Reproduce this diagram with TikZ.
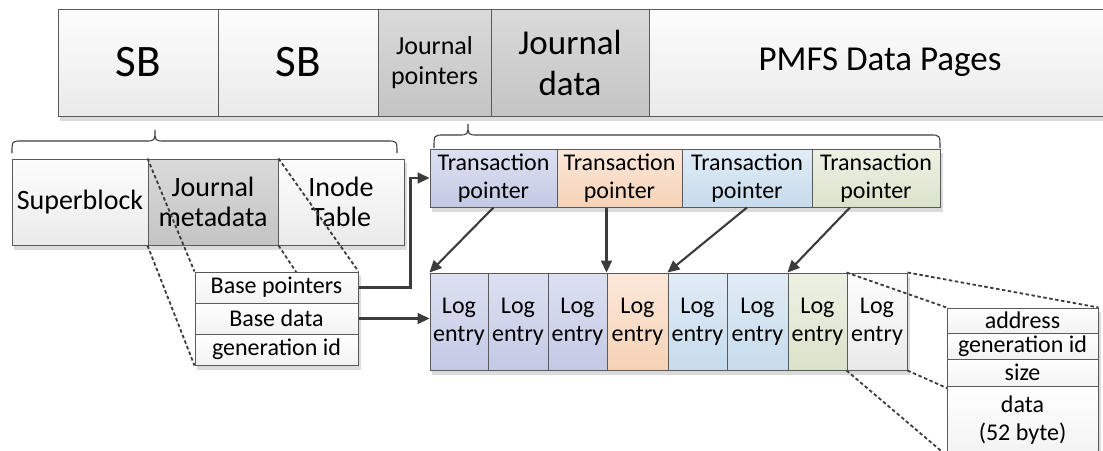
\documentclass[tikz,border=0pt]{standalone}
\usepackage{fontspec}
\setmainfont{Carlito}
\usetikzlibrary{arrows.meta,calc}

\pgfdeclarelayer{shadow}
\pgfdeclarelayer{links}
\pgfdeclarelayer{front}
\pgfsetlayers{shadow,main,links,front}

\definecolor{edge}{RGB}{90,90,90}
\definecolor{ink}{RGB}{60,60,60}
\definecolor{lightT}{RGB}{253,253,253}
\definecolor{lightB}{RGB}{234,234,234}
\definecolor{darkT}{RGB}{218,218,218}
\definecolor{darkB}{RGB}{196,196,196}
\definecolor{lavT}{RGB}{220,224,241}
\definecolor{lavB}{RGB}{196,202,229}
\definecolor{peachT}{RGB}{252,232,218}
\definecolor{peachB}{RGB}{245,210,182}
\definecolor{skyT}{RGB}{225,236,246}
\definecolor{skyB}{RGB}{198,219,236}
\definecolor{sageT}{RGB}{237,241,228}
\definecolor{sageB}{RGB}{218,227,202}

\tikzset{
  cell/.style={draw=edge, line width=1pt, inner sep=0pt, align=center, text=black},
  boxlight/.style={cell, top color=lightT, bottom color=lightB},
  boxdark/.style={cell, top color=darkT, bottom color=darkB},
  boxlav/.style={cell, top color=lavT, bottom color=lavB},
  boxpeach/.style={cell, top color=peachT, bottom color=peachB},
  boxsky/.style={cell, top color=skyT, bottom color=skyB},
  boxsage/.style={cell, top color=sageT, bottom color=sageB},
  rowcell/.style={cell, fill=white, top color=white, bottom color=lightB!60!white},
  fbig/.style={font=\fontsize{45}{54}\selectfont},
  fmid/.style={font=\fontsize{35}{41}\selectfont},
  fjp/.style={font=\fontsize{26}{30}\selectfont},
  flow/.style={font=\fontsize{28}{30}\selectfont},
  fsmall/.style={font=\fontsize{24}{28}\selectfont},
  arr/.style={draw=ink, line width=2.1pt, -{Triangle[length=12pt,width=11pt]}},
  zoomline/.style={draw=ink, line width=1.8pt, dash pattern=on 3.5pt off 2.5pt},
  bracepath/.style={draw=ink, line width=1.1pt},
  dropshade/.style={fill=black!14}
}

\begin{document}
\begin{tikzpicture}[x=1pt,y=-1pt]
\useasboundingbox (0,0) rectangle (1103,450);

% device layout bar
\node[boxlight, fbig, minimum width=160pt, minimum height=107pt] (sb1) at (138,62.5) {SB};
\node[boxlight, fbig, minimum width=160pt, minimum height=107pt] (sb2) at (298,62.5) {SB};
\node[boxdark, fjp, minimum width=113pt, minimum height=107pt] (jp) at (434.5,62.5) {Journal\\pointers};
\node[boxdark, fmid, minimum width=158pt, minimum height=107pt] (jd) at (570,62.5) {Journal\\data};
\node[boxlight, fmid, minimum width=462pt, minimum height=107pt] (pmfs) at (880,62.5) {PMFS Data Pages};

% superblock region
\node[boxlight, flow, minimum width=136pt, minimum height=86pt] (sup) at (80,202) {Superblock};
\node[boxdark, flow, minimum width=130pt, minimum height=86pt] (jm) at (213,202) {Journal\\metadata};
\node[boxlight, flow, minimum width=126pt, minimum height=86pt] (ino) at (341,202) {Inode\\Table};

% transaction pointers
\node[boxlav, fsmall, minimum width=127pt, minimum height=58pt] (tp1) at (493.5,178) {Transaction\\pointer};
\node[boxpeach, fsmall, minimum width=125pt, minimum height=58pt] (tp2) at (619.5,178) {Transaction\\pointer};
\node[boxsky, fsmall, minimum width=130pt, minimum height=58pt] (tp3) at (747,178) {Transaction\\pointer};
\node[boxsage, fsmall, minimum width=128pt, minimum height=58pt] (tp4) at (876,178) {Transaction\\pointer};

% log entries
\node[boxlav, fsmall, minimum width=58pt, minimum height=97pt] (l1) at (459,321.5) {Log\\entry};
\node[boxlav, fsmall, minimum width=60pt, minimum height=97pt] (l2) at (518,321.5) {Log\\entry};
\node[boxlav, fsmall, minimum width=59pt, minimum height=97pt] (l3) at (577.5,321.5) {Log\\entry};
\node[boxpeach, fsmall, minimum width=61pt, minimum height=97pt] (l4) at (637.5,321.5) {Log\\entry};
\node[boxsky, fsmall, minimum width=59pt, minimum height=97pt] (l5) at (697.5,321.5) {Log\\entry};
\node[boxsky, fsmall, minimum width=61pt, minimum height=97pt] (l6) at (757.5,321.5) {Log\\entry};
\node[boxsage, fsmall, minimum width=59pt, minimum height=97pt] (l7) at (817.5,321.5) {Log\\entry};
\node[boxlight, fsmall, minimum width=60pt, minimum height=97pt] (l8) at (877,321.5) {Log\\entry};

% journal metadata fields and log entry fields
\begin{pgfonlayer}{front}
\node[rowcell, fsmall, minimum width=163pt, minimum height=31pt] (bp) at (276.5,287.5) {Base pointers};
\node[rowcell, fsmall, minimum width=163pt, minimum height=31pt] (bd) at (276.5,318.5) {Base data};
\node[rowcell, fsmall, minimum width=163pt, minimum height=31pt] (gid) at (276.5,349.5) {generation id};

\node[rowcell, fsmall, minimum width=151pt, minimum height=25pt] (addr) at (1022.5,320.5) {address};
\node[rowcell, fsmall, minimum width=151pt, minimum height=26pt] (gen) at (1022.5,346) {generation id};
\node[rowcell, fsmall, minimum width=151pt, minimum height=27pt] (size) at (1022.5,372.5) {size};
\node[rowcell, fsmall, minimum width=151pt, minimum height=69pt] (data) at (1022.5,420.5) {data\\(52 byte)};
\end{pgfonlayer}

% drop shadows
\begin{pgfonlayer}{shadow}
\fill[dropshade] ([shift={(2pt,-4pt)}]sb1.north west) rectangle ([shift={(2pt,-4pt)}]pmfs.south east);
\fill[dropshade] ([shift={(2pt,-4pt)}]sup.north west) rectangle ([shift={(2pt,-4pt)}]ino.south east);
\fill[dropshade] ([shift={(2pt,-4pt)}]tp1.north west) rectangle ([shift={(2pt,-4pt)}]tp4.south east);
\fill[dropshade] ([shift={(2pt,-4pt)}]l1.north west) rectangle ([shift={(2pt,-4pt)}]l8.south east);
\end{pgfonlayer}
\begin{pgfonlayer}{links}
\fill[dropshade] ([shift={(2pt,-4pt)}]bp.north west) rectangle ([shift={(2pt,-4pt)}]gid.south east);
\fill[dropshade] ([shift={(2pt,-4pt)}]addr.north west) rectangle ([shift={(2pt,-4pt)}]data.south east);
\end{pgfonlayer}

% braces
\draw[bracepath] (12,153) .. controls (12,141) .. (22,141) -- (145,141)
  .. controls (155,141) .. (155,130) .. controls (155,141) .. (165,141)
  -- (387,141) .. controls (397,141) .. (397,153);
\draw[bracepath] (434,148) .. controls (434,135) .. (444,135) -- (458,135)
  .. controls (468,135) .. (468,124) .. controls (468,135) .. (478,135)
  -- (930,135) .. controls (940,135) .. (940,148);

% zoom-in guides
\begin{pgfonlayer}{links}
\draw[zoomline] (jm.north west) -- (bp.north west);
\draw[zoomline] (jm.south west) -- (gid.south west);
\draw[zoomline] (jm.north east) -- (bp.north east);
\draw[zoomline] (jm.south east) -- (gid.south east);
\draw[zoomline] (l8.north west) -- (addr.north west);
\draw[zoomline] (l8.north east) -- (addr.north east);
\draw[zoomline] (l8.south west) -- (data.south west);
\draw[zoomline] (l8.south east) -- (data.south east);
\end{pgfonlayer}

% pointer arrows
\begin{pgfonlayer}{front}
\draw[arr] (bp.east) -- ++(52,0) |- (tp1.west);
\draw[arr] (bd.east) -- (bd.east -| l1.west);
\end{pgfonlayer}
\draw[arr] (tp1.south) -- (l1.north west);
\draw[arr] (tp2.south -| l4.north west) -- (l4.north west);
\draw[arr] (tp3.south) -- (l5.north west);
\draw[arr] ([xshift=-26pt]tp4.south) -- (l7.north west);
\end{tikzpicture}
\end{document}
